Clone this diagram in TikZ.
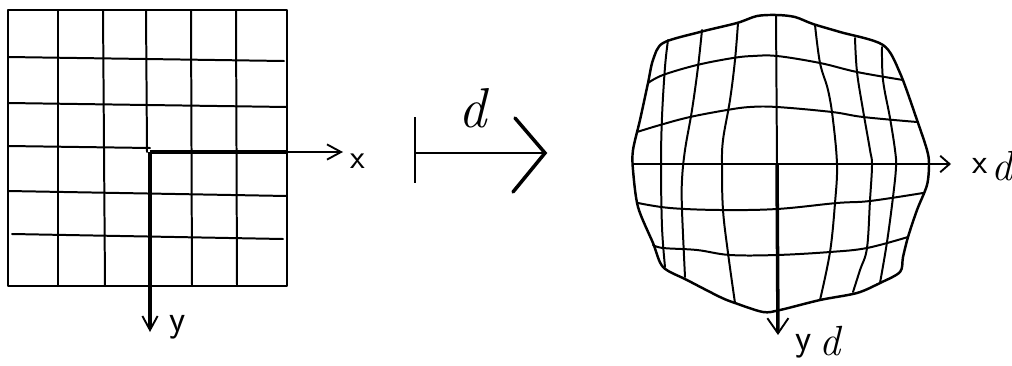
\documentclass[tikz,border=0pt]{standalone}
\usetikzlibrary{arrows.meta}
\begin{document}
\begin{tikzpicture}[x=0.03cm,y=-0.03cm,
  grid/.style={line width=1.7pt, line join=round, line cap=round},
  outline/.style={line width=2.1pt, line join=round, line cap=round},
  axis/.style={line width=3pt},
  lab/.style={inner sep=0pt, font=\sffamily\fontsize{29}{33}\selectfont},
  dlab/.style={inner sep=0pt, font=\fontsize{36}{40}\selectfont\itshape},
  bigd/.style={inner sep=0pt, font=\fontsize{48}{52}\selectfont\itshape}]
\useasboundingbox (0,0) rectangle (1012,365);
\fill[white] (0,0) rectangle (1012,365);

% ---------- left grid ----------
\draw[outline] (8,10) rectangle (287,286);
\draw[grid] (8,57) -- (284,61);
\draw[grid] (8,103) -- (287,107);
\draw[grid] (8,146) -- (150,148);
\draw[grid] (8,191) -- (287,196);
\draw[grid] (12,234) -- (283,239);
\draw[grid] (58,10) -- (58,286);
\draw[grid] (103,10) -- (105,286);
\draw[grid] (146,10) -- (147,152);
\draw[grid] (191,10) -- (192,286);
\draw[grid] (236,10) -- (237,286);

\coordinate (o) at (150,152);
\coordinate (xe) at (287,152);
\coordinate (xt) at (343,152);
\coordinate (yt) at (150,332);
\draw[axis] (o) -- (xe);
\draw[line width=1.8pt,-{Straight Barb[length=12pt,width=13pt,line width=1.6pt]}] (xe) -- (xt);
\draw[axis,-{Straight Barb[length=12pt,width=13pt,line width=1.6pt]}] (o) -- (yt);
\node[lab, anchor=base] (xl) at (358,168) {x};
\node[lab, anchor=base, font=\sffamily\fontsize{32}{36}\selectfont] (yl) at (178,331) {y};

% ---------- maps-to arrow ----------
\coordinate (mbt) at (415,117);
\coordinate (mbb) at (415,183);
\coordinate (ms) at (415,153);
\coordinate (me) at (545,153);
\coordinate (ma1) at (515,118);
\coordinate (ma2) at (513,192);
\draw[line width=1.8pt] (mbt) -- (mbb);
\draw[line width=1.8pt] (ms) -- (me);
\draw[line width=3pt, line cap=round, line join=miter] (ma1) -- (me) -- (ma2);
\node[bigd, anchor=base] (dl) at (473,127) {d};

% ---------- right distorted grid ----------
\draw[outline] plot[smooth cycle, tension=0.5] coordinates {
 (663,43) (700,32) (737,23) (757,16) (777,15) (795,17) (813,24) (840,32)
 (883,45) (900,73) (917,120) (927,150) (929,164) (927,185) (917,210)
 (908,237) (903,257) (900,272) (880,283) (857,293) (820,300) (780,310)
 (763,312) (735,303) (720,297) (687,280) (663,267) (653,243) (638,207)
 (633,170) (633,150) (640,120) (648,83) (653,60)};
% horizontals
\draw[grid] plot[smooth, tension=0.6] coordinates {(648,83) (663,75) (697,65) (733,58) (753,56) (777,56) (820,63) (857,72) (903,80)};
\draw[grid] plot[smooth, tension=0.6] coordinates {(637,132) (660,125) (690,117) (727,110) (750,107) (777,107) (832,112) (863,117) (917,122)};
\draw[grid] plot[smooth, tension=0.6] coordinates {(638,203) (670,208) (720,210) (777,209) (837,203) (870,201) (923,193)};
\draw[grid] plot[smooth, tension=0.6] coordinates {(653,245) (663,248) (697,250) (730,255) (777,255) (830,252) (867,248) (908,237)};
% verticals
\draw[grid] plot[smooth, tension=0.6] coordinates {(668,40) (665,67) (662,117) (661,165) (662,227) (665,267)};
\draw[grid] plot[smooth, tension=0.6] coordinates {(702,30) (698,67) (692,110) (685,150) (682,180) (682,210) (685,277)};
\draw[grid] plot[smooth, tension=0.6] coordinates {(738,23) (735,60) (730,100) (723,140) (722,167) (723,210) (728,253) (735,303)};
\draw[grid] plot[smooth, tension=0.6] coordinates {(815,25) (820,63) (828,90) (833,120) (837,165) (835,203) (830,252) (820,300)};
\draw[grid] plot[smooth, tension=0.6] coordinates {(855,38) (857,72) (863,110) (870,150) (872,165) (870,200) (867,248) (860,270) (853,292)};
\draw[grid] plot[smooth, tension=0.6] coordinates {(882,47) (883,80) (890,118) (895,150) (896,167) (893,197) (887,242) (880,283)};

\coordinate (od) at (777,164);
\coordinate (odtop) at (776,15);
\coordinate (xds) at (632,164);
\coordinate (xdt) at (951,164);
\coordinate (ydt) at (778,335);
\draw[grid] (odtop) -- (od);
\draw[line width=1.7pt,-{Straight Barb[length=8pt,width=14pt,line width=1.6pt]}] (xds) -- (xdt);
\draw[axis,-{Straight Barb[length=13pt,width=18pt,line width=1.6pt]}] (od) -- (ydt);
\node[lab, anchor=base, font=\sffamily\fontsize{30}{34}\selectfont] (xdx) at (980,173) {x};
\node[dlab, anchor=base] (xdd) at (1002,180) {d};
\node[lab, anchor=base, font=\sffamily\fontsize{32}{36}\selectfont] (ydy) at (804,350) {y};
\node[dlab, anchor=base] (ydd) at (830,355) {d};
\end{tikzpicture}
\end{document}
